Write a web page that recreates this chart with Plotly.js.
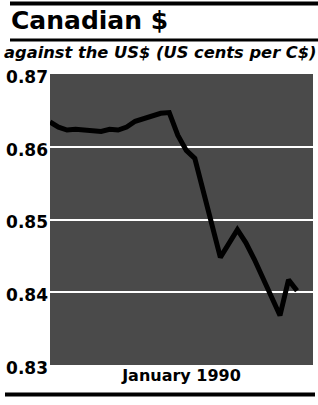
<!DOCTYPE html>
<html>
<head>
<meta charset="utf-8">
<script src="https://cdn.plot.ly/plotly-3.0.1.min.js"></script>
<style>html,body{margin:0;padding:0;background:#fff;}#chart{width:318px;height:405px;}</style>
</head>
<body>
<div id="chart"></div>
<script>
// Trading days of January 1990
var dates = ['1990-01-02','1990-01-03','1990-01-04','1990-01-05',
             '1990-01-08','1990-01-09','1990-01-10','1990-01-11','1990-01-12',
             '1990-01-15','1990-01-16','1990-01-17','1990-01-18','1990-01-19',
             '1990-01-22','1990-01-23','1990-01-24','1990-01-25','1990-01-26',
             '1990-01-29','1990-01-30','1990-01-31'];
// US cents per C$ (as US$ per C$)
var rate = [0.8634,0.8627,0.8623,0.8624,
            0.8621,0.8624,0.8623,0.8627,0.8635,
            0.8646,0.8647,0.8616,0.8595,0.8584,
            0.8448,0.8467,0.8486,0.8468,0.8445,
            0.8368,0.8417,0.8402];
var yTicks = [0.83,0.84,0.85,0.86,0.87];
var yTickText = ['0.83','0.84','0.85','0.86','0.87'];
var titleText = 'Canadian $';
var subtitleText = 'against the US$ (US cents per C$)';
var xTitle = 'January 1990';

var font = 'DejaVu Sans, Verdana, sans-serif';

var trace = {
  x: dates, y: rate, type: 'scatter', mode: 'lines',
  line: {color: '#000', width: 5, shape: 'linear'},
  hoverinfo: 'skip'
};

var W = 263, H = 291, L = 50, T = 74;
function px(x){ return (x - L) / W; }
function py(y){ return (T + H - y) / H; }

var layout = {
  width: 318, height: 405,
  margin: {l: L, r: 318 - L - W, t: T, b: 405 - T - H, pad: 0},
  paper_bgcolor: '#fff',
  plot_bgcolor: '#4a4a4a',
  showlegend: false,
  xaxis: {
    type: 'date',
    range: ['1990-01-02', '1990-02-01 21:00'],
    showgrid: false, zeroline: false, showline: false,
    showticklabels: false, ticks: '',
    title: {text: '<b>' + xTitle + '</b>', font: {family: font, size: 16, color: '#000'}, standoff: 4}
  },
  yaxis: {
    range: [0.83, 0.87],
    tickvals: yTicks, ticktext: yTickText.map(function(t){return '<b>'+t+'</b>';}),
    tickfont: {family: font, size: 17, color: '#000'},
    ticklabelshift: 3, ticklabelstandoff: 1,
    showgrid: true, gridcolor: '#ffffff', gridwidth: 2,
    zeroline: false, showline: false, ticks: '', ticklen: 0
  },
  shapes: [
    {type: 'line', xref: 'paper', yref: 'paper', x0: px(10), x1: px(318), y0: py(3.5), y1: py(3.5), line: {color: '#000', width: 4}},
    {type: 'line', xref: 'paper', yref: 'paper', x0: px(10), x1: px(318), y0: py(40), y1: py(40), line: {color: '#000', width: 3}},
    {type: 'line', xref: 'paper', yref: 'paper', x0: px(5), x1: px(315), y0: py(394.5), y1: py(394.5), line: {color: '#000', width: 4}}
  ],
  annotations: [
    {text: '<b>' + titleText + '</b>', xref: 'paper', yref: 'paper', x: px(9), y: py(21), xanchor: 'left', yanchor: 'middle', showarrow: false,
     font: {family: font, size: 25, color: '#000'}},
    {text: '<b><i>' + subtitleText + '</i></b>', xref: 'paper', yref: 'paper', x: px(2), y: py(52), xanchor: 'left', yanchor: 'middle', showarrow: false,
     font: {family: font, size: 16.3, color: '#000'}}
  ]
};

Plotly.newPlot('chart', [trace], layout, {displayModeBar: false, staticPlot: true});
</script>
</body>
</html>
